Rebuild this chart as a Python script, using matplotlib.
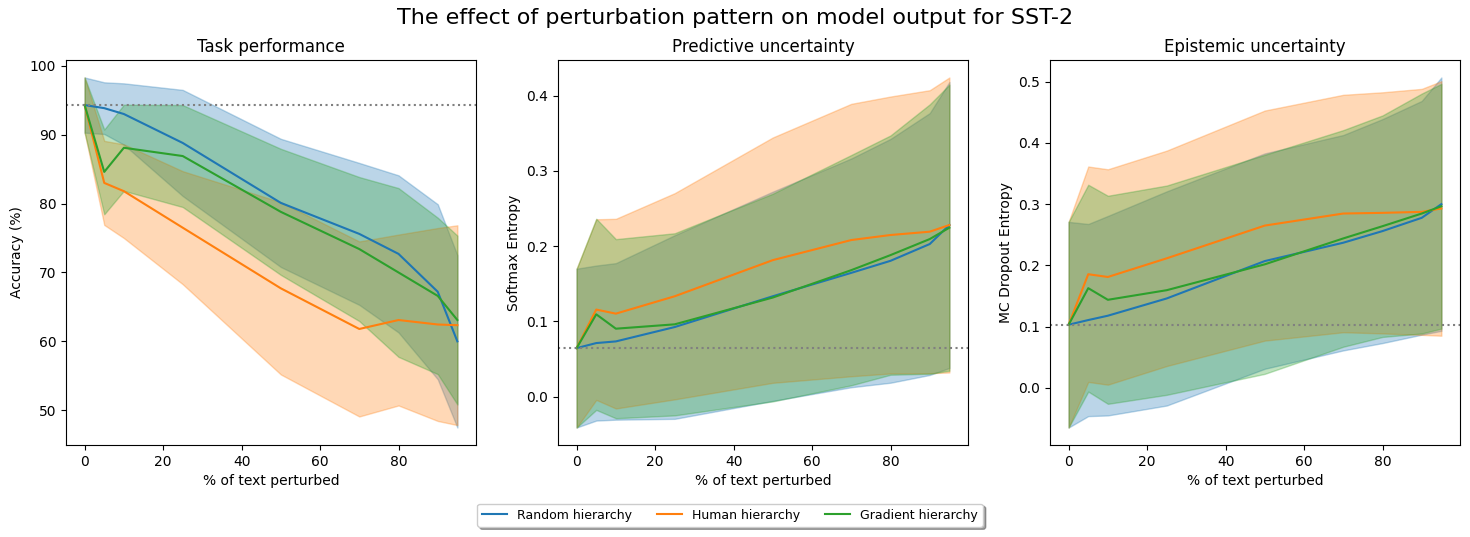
import matplotlib
matplotlib.use("Agg")
import matplotlib.pyplot as plt
import numpy as np

x_pct = [0, 5, 10, 25, 50, 70, 80, 90, 95]
series_names = ["Random hierarchy", "Human hierarchy", "Gradient hierarchy"]

# Task performance (accuracy %)
acc_random_mean = [94.3, 93.85, 93.0, 88.8, 80.1, 75.6, 72.7, 67.2, 60.0]
acc_random_std = [4.0, 3.75, 4.45, 7.7, 9.3, 10.3, 11.4, 12.7, 12.5]
acc_human_mean = [94.3, 83.0, 81.8, 76.5, 67.7, 61.8, 63.1, 62.45, 62.35]
acc_human_std = [4.0, 6.1, 6.8, 8.2, 12.5, 12.7, 12.4, 14.0, 14.5]
acc_grad_mean = [94.3, 84.6, 88.1, 86.9, 78.8, 73.4, 70.0, 66.6, 63.1]
acc_grad_std = [4.0, 6.15, 6.25, 7.4, 9.15, 10.45, 12.25, 11.35, 12.25]
acc_baseline = 94.3

# Predictive uncertainty (softmax entropy)
sm_random_mean = [0.0644, 0.0711, 0.0733, 0.0924, 0.1333, 0.1644, 0.1804, 0.2027, 0.228]
sm_random_std = [0.1055, 0.103, 0.104, 0.122, 0.139, 0.152, 0.162, 0.174, 0.19]
sm_human_mean = [0.0644, 0.1156, 0.1102, 0.1333, 0.1813, 0.208, 0.2147, 0.2191, 0.228]
sm_human_std = [0.1055, 0.120, 0.126, 0.137, 0.163, 0.181, 0.184, 0.188, 0.196]
sm_grad_mean = [0.0644, 0.1093, 0.0902, 0.096, 0.1316, 0.168, 0.188, 0.2093, 0.2244]
sm_grad_std = [0.1055, 0.127, 0.119, 0.121, 0.138, 0.153, 0.159, 0.179, 0.19]
sm_baseline = 0.0644

# Epistemic uncertainty (MC dropout entropy)
mc_random_mean = [0.103, 0.1106, 0.1177, 0.1459, 0.207, 0.237, 0.256, 0.2777, 0.300]
mc_random_std = [0.168, 0.157, 0.163, 0.175, 0.176, 0.176, 0.183, 0.191, 0.207]
mc_human_mean = [0.103, 0.1855, 0.181, 0.2115, 0.265, 0.2847, 0.2858, 0.2874, 0.293]
mc_human_std = [0.168, 0.176, 0.176, 0.176, 0.188, 0.194, 0.197, 0.201, 0.208]
mc_grad_mean = [0.103, 0.1627, 0.1437, 0.1594, 0.2017, 0.244, 0.264, 0.2847, 0.2966]
mc_grad_std = [0.168, 0.169, 0.170, 0.171, 0.179, 0.177, 0.181, 0.196, 0.2]
mc_baseline = 0.103

panels = [
    ("Task performance", "Accuracy (%)", acc_baseline,
     [(acc_random_mean, acc_random_std), (acc_human_mean, acc_human_std), (acc_grad_mean, acc_grad_std)]),
    ("Predictive uncertainty", "Softmax Entropy", sm_baseline,
     [(sm_random_mean, sm_random_std), (sm_human_mean, sm_human_std), (sm_grad_mean, sm_grad_std)]),
    ("Epistemic uncertainty", "MC Dropout Entropy", mc_baseline,
     [(mc_random_mean, mc_random_std), (mc_human_mean, mc_human_std), (mc_grad_mean, mc_grad_std)]),
]

colors = ["#1f77b4", "#ff7f0e", "#2ca02c"]

fig = plt.figure(figsize=(14.7, 5.37), dpi=100)
lefts = [66 / 1470, 558 / 1470, 1050 / 1470]
width = 410 / 1470
bottom = 1 - 445 / 537
height = (445 - 60) / 537

x = np.array(x_pct)
handles = []
for i, (title, ylabel, base, data) in enumerate(panels):
    ax = fig.add_axes([lefts[i], bottom, width, height])
    for j, (m, s) in enumerate(data):
        m = np.array(m)
        s = np.array(s)
        h, = ax.plot(x, m, color=colors[j], label=series_names[j])
        ax.fill_between(x, m - s, m + s, color=colors[j], alpha=0.3)
        if i == 0:
            handles.append(h)
    ax.axhline(base, color="grey", linestyle=":", linewidth=1.5)
    ax.set_title(title)
    ax.set_ylabel(ylabel)
    ax.set_xlabel("% of text perturbed")

fig.suptitle("The effect of perturbation pattern on model output for SST-2", fontsize=16, y=0.985)
fig.legend(handles=handles, labels=series_names, loc="center", ncol=3,
           bbox_to_anchor=(730 / 1470, 1 - 515 / 537), fancybox=True, shadow=True,
           fontsize=9)

fig.savefig("out.png", dpi=100)
